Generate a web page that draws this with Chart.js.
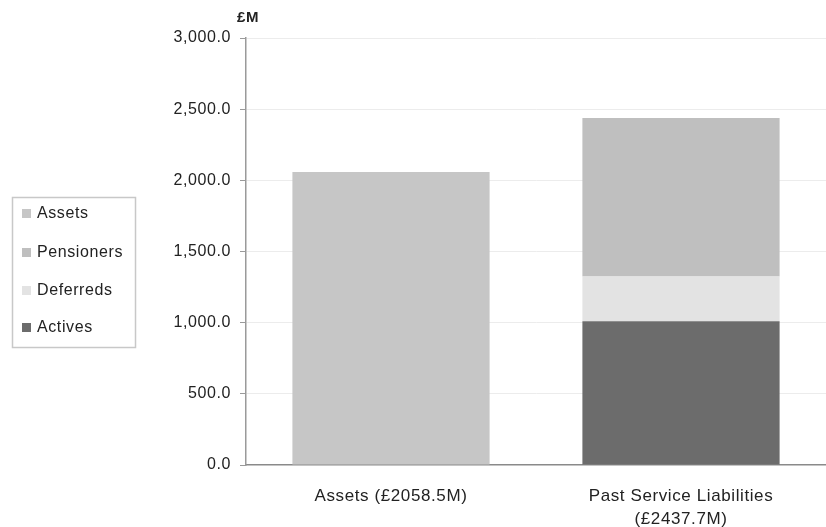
<!DOCTYPE html>
<html>
<head>
<meta charset="utf-8">
<script src="https://cdn.jsdelivr.net/npm/chart.js@4"></script>
<style>
  html, body { margin: 0; padding: 0; background: #fff; }
  #wrap { width: 826px; height: 527px; position: relative; }
</style>
</head>
<body>
<div id="wrap"><canvas id="chart"></canvas></div>
<script>
const categories = ['Assets (£2058.5M)', ['Past Service Liabilities', '(£2437.7M)']];

// stacked from the bottom up, like the original
const actives = [null, 1010.0];
const deferreds = [null, 315.0];
const pensioners = [null, 1112.7];
const assets = [2058.5, null];

const yTicks = [0, 500, 1000, 1500, 2000, 2500, 3000];

const font = 'Arial, "Liberation Sans", sans-serif';

// scanned text in the original is spaced out a bit
const spacing = {
  id: 'spacing',
  beforeInit(chart) { chart.ctx.letterSpacing = '0.6px'; },
  beforeDraw(chart) { chart.ctx.letterSpacing = '0.6px'; }
};

// legend drawn in a box on the left, top item is the last dataset
const boxLegend = {
  id: 'boxLegend',
  afterDraw(chart) {
    const ctx = chart.ctx;
    ctx.save();
    ctx.strokeStyle = '#c8c8c8';
    ctx.lineWidth = 1.5;
    ctx.strokeRect(12.5, 197.5, 123, 150);
    const items = chart.data.datasets.slice().reverse();
    const rows = [213, 252, 290, 327];
    ctx.font = '16px ' + font;
    ctx.textBaseline = 'middle';
    items.forEach((ds, i) => {
      ctx.fillStyle = ds.backgroundColor;
      ctx.fillRect(22, rows[i] - 4, 9, 9);
      ctx.fillStyle = '#222';
      ctx.fillText(ds.label, 37, rows[i] + 1);
    });
    // unit label above the value axis
    ctx.font = 'bold 15px ' + font;
    ctx.textBaseline = 'alphabetic';
    ctx.fillText('£M', 237, 22);
    ctx.restore();
  }
};

new Chart(document.getElementById('chart'), {
  type: 'bar',
  data: {
    labels: categories,
    datasets: [
      { label: 'Actives', data: actives, backgroundColor: '#6c6c6c' },
      { label: 'Deferreds', data: deferreds, backgroundColor: '#e3e3e3' },
      { label: 'Pensioners', data: pensioners, backgroundColor: '#bfbfbf' },
      { label: 'Assets', data: assets, backgroundColor: '#c6c6c6' }
    ]
  },
  options: {
    responsive: true,
    maintainAspectRatio: false,
    animation: false,
    layout: { padding: { top: 38, left: 0, right: 0, bottom: 0 } },
    plugins: { legend: { display: false }, tooltip: { enabled: false } },
    datasets: { bar: { categoryPercentage: 1, barPercentage: 0.68, skipNull: true } },
    scales: {
      x: {
        stacked: true,
        afterFit(s) { s.height = 62; },
        grid: { display: false },
        border: { color: '#8a8a8a', width: 1.5 },
        ticks: { color: '#222', font: { family: font, size: 17, lineHeight: 1.4 }, padding: 11, maxRotation: 0 }
      },
      y: {
        stacked: true,
        min: 0,
        max: 3000,
        afterFit(s) { s.width = 246; },
        afterBuildTicks(s) { s.ticks = yTicks.map(v => ({ value: v })); },
        border: { color: '#9a9a9a', width: 1.5 },
        grid: {
          color: ctx => ctx.tick && ctx.tick.value === 0 ? 'rgba(0,0,0,0)' : '#ececec',
          tickColor: '#9a9a9a',
          tickLength: 6,
          borderDash: [4, 4]
        },
        ticks: {
          color: '#222',
          font: { family: font, size: 16 },
          padding: 9,
          callback: v => v.toLocaleString('en-GB', { minimumFractionDigits: 1, maximumFractionDigits: 1 })
        }
      }
    }
  },
  plugins: [spacing, boxLegend]
});
</script>
</body>
</html>
